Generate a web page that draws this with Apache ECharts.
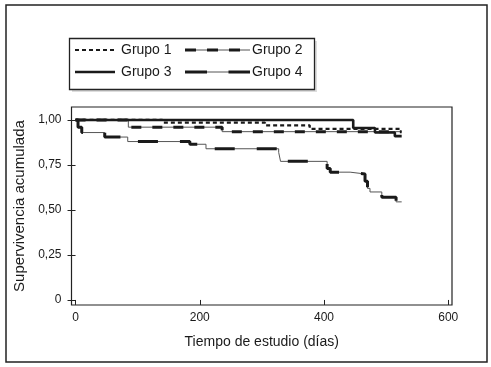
<!DOCTYPE html>
<html>
<head>
<meta charset="utf-8">
<script src="https://cdn.jsdelivr.net/npm/echarts@6/dist/echarts.min.js"></script>
<style>
html,body{margin:0;padding:0;background:#fff;}
#chart{width:491px;height:367px;}
</style>
</head>
<body>
<div id="chart"></div>
<script>
// ---- data ----
const groupNames = ['Grupo 1', 'Grupo 2', 'Grupo 3', 'Grupo 4'];
const group1Days = [0, 140, 305, 377, 525];
const group1Surv = [1.0, 0.985, 0.97, 0.95, 0.95];
const group2Days = [0, 85, 236, 525];
const group2Surv = [1.0, 0.96, 0.935, 0.935];
const group3Days = [0, 447, 482, 514, 525];
const group3Surv = [1.0, 0.955, 0.93, 0.91, 0.91];
const group4Days = [0, 4, 10, 47, 84, 184, 210, 327, 330, 405, 410, 442, 466, 470, 474, 493, 516, 525];
const group4Surv = [1.0, 0.96, 0.93, 0.905, 0.88, 0.865, 0.84, 0.82, 0.77, 0.73, 0.71, 0.70, 0.66, 0.62, 0.60, 0.57, 0.545, 0.545];
const xTickValues = [0, 200, 400, 600];
const yTickValues = [0, 0.25, 0.5, 0.75, 1.0];
const yTickLabels = ['0', '0,25', '0,50', '0,75', '1,00'];
const xAxisTitle = 'Tiempo de estudio (días)';
const yAxisTitle = 'Supervivencia acumulada';

function pairs(d, s) { return d.map((t, i) => [t, s[i]]); }

const FONT = '"Liberation Sans", Arial, Helvetica, sans-serif';
const INK = '#1a1a1a';

function stepSeries(name, days, surv, lineStyle, z) {
  return {
    name: name, type: 'line', step: 'end', showSymbol: false, symbol: 'none',
    data: pairs(days, surv), lineStyle: lineStyle, z: z, silent: true, animation: false
  };
}

const series = [
  stepSeries('Grupo 4 thin', group4Days, group4Surv, {color: '#555', width: 1, type: 'solid'}, 2),
  stepSeries('Grupo 4', group4Days, group4Surv, {color: INK, width: 3, type: [20, 22], cap: 'butt'}, 3),
  stepSeries('Grupo 2 thin', group2Days, group2Surv, {color: '#555', width: 1, type: 'solid'}, 2),
  stepSeries('Grupo 2', group2Days, group2Surv, {color: INK, width: 3, type: [10, 11], cap: 'butt'}, 3),
  stepSeries('Grupo 1', group1Days, group1Surv, {color: INK, width: 2.2, type: [4, 3], cap: 'butt'}, 4),
  stepSeries('Grupo 3', group3Days, group3Surv, {color: INK, width: 2.6, type: 'solid'}, 5)
];

// legend drawn as graphic (composite line styles)
const legX1 = 75, legX2 = 185, legLen1 = 40, legLen2 = 65;
const row1 = 50, row2 = 72;
function seg(x1, x2, y, w, dash, color) {
  return {type: 'line', shape: {x1: x1, y1: y, x2: x2, y2: y},
    style: {stroke: color || INK, lineWidth: w, lineDash: dash || null}, z: 100};
}
function txt(x, y, t) {
  return {type: 'text', x: x, y: y, style: {text: t, fill: INK, font: '14px ' + FONT, textVerticalAlign: 'middle'}, z: 100};
}
const graphics = [
  {type: 'rect', shape: {x: 6, y: 5, width: 481, height: 357}, style: {fill: null, stroke: '#222', lineWidth: 1.5}, z: 90},
  {type: 'rect', shape: {x: 72, y: 41, width: 245, height: 51}, style: {fill: '#ddd', stroke: null}, z: 95},
  {type: 'rect', shape: {x: 69.5, y: 38.5, width: 245, height: 51}, style: {fill: '#fff', stroke: '#222', lineWidth: 1.3}, z: 96},
  // Grupo 1
  seg(legX1, legX1 + legLen1, row1, 2.2, [4, 3]),
  txt(121, row1, groupNames[0]),
  // Grupo 2
  seg(legX2, legX2 + legLen2, row1, 1, null, '#555'),
  seg(legX2, legX2 + legLen2, row1, 3, [11, 11]),
  txt(252, row1, groupNames[1]),
  // Grupo 3
  seg(legX1, legX1 + legLen1, row2, 2.6, null),
  txt(121, row2, groupNames[2]),
  // Grupo 4
  seg(legX2, legX2 + legLen2, row2, 1, null, '#555'),
  seg(legX2, legX2 + legLen2, row2, 3, [22, 21.5]),
  txt(252, row2, groupNames[3])
];

const chart = echarts.init(document.getElementById('chart'), null, {renderer: 'canvas'});
chart.setOption({
  animation: false,
  backgroundColor: '#fff',
  grid: {left: 71.5, right: 39, top: 107, bottom: 62, show: true, borderColor: '#222', borderWidth: 1.2, backgroundColor: 'transparent'},
  xAxis: {
    type: 'value', min: -6.5, max: 606,
    name: xAxisTitle, nameLocation: 'middle', nameGap: 30,
    nameTextStyle: {fontSize: 14, color: INK, fontFamily: FONT},
    axisLine: {show: false},
    splitLine: {show: false},
    axisTick: {show: true, length: 5, lineStyle: {color: '#222', width: 1}, customValues: xTickValues},
    axisLabel: {customValues: xTickValues, fontSize: 12, color: INK, fontFamily: FONT, margin: 7,
      formatter: v => String(v)}
  },
  yAxis: {
    type: 'value', min: -0.028, max: 1.072,
    name: yAxisTitle, nameLocation: 'middle', nameGap: 40, nameRotate: 90,
    nameTextStyle: {fontSize: 15, color: INK, fontFamily: FONT},
    axisLine: {show: false},
    splitLine: {show: false},
    axisTick: {show: true, length: 8, lineStyle: {color: '#222', width: 1}, customValues: yTickValues},
    axisLabel: {customValues: yTickValues, fontSize: 12, color: INK, fontFamily: FONT, margin: 10,
      formatter: v => { const i = yTickValues.findIndex(t => Math.abs(t - v) < 1e-6); return i >= 0 ? yTickLabels[i] : ''; }}
  },
  series: series,
  graphic: graphics
});
</script>
</body>
</html>
